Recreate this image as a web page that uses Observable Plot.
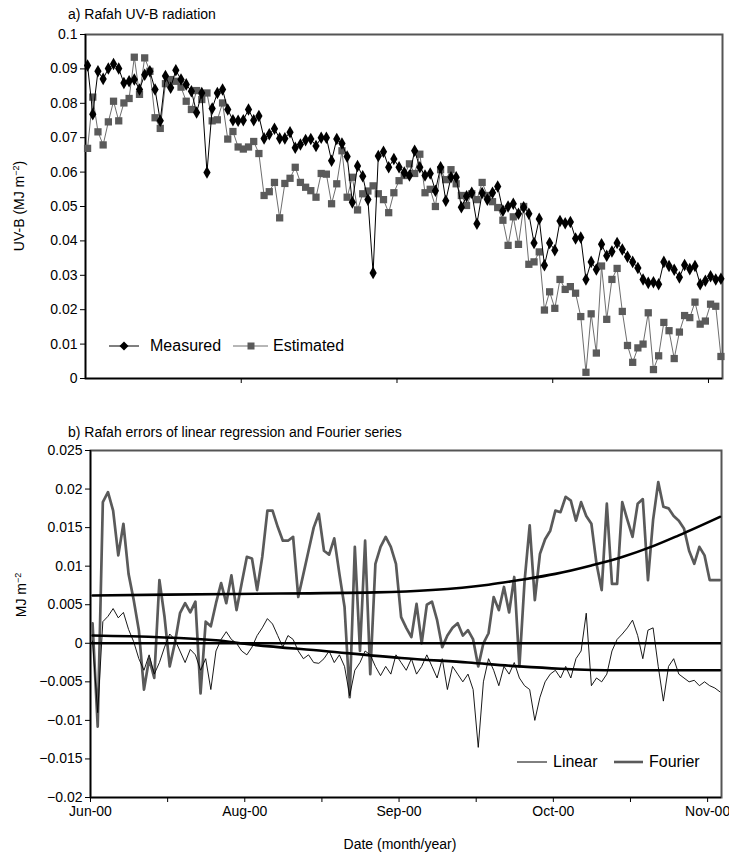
<!DOCTYPE html>
<html><head><meta charset="utf-8">
<script src="https://cdn.jsdelivr.net/npm/d3@7"></script>
<script src="https://cdn.jsdelivr.net/npm/@observablehq/plot@0.6"></script>
<style>
body{margin:0;background:#fff;}
#wrap{position:relative;width:729px;height:854px;overflow:hidden;background:#fff;}
#wrap > svg{position:absolute;left:0;}
</style></head><body><div id="wrap"></div>
<script>
// ---------- data (daily values, index = day) ----------
const measured = [0.0910,0.0768,0.0893,0.0871,0.0901,0.0914,0.0901,0.0859,0.0864,0.0869,
0.0840,0.0883,0.0893,0.0840,0.0749,0.0879,0.0845,0.0896,0.0869,0.0855,
0.0835,0.0773,0.0830,0.0599,0.0785,0.0830,0.0840,0.0782,0.0751,0.0749,
0.0751,0.0782,0.0751,0.0763,0.0698,0.0710,0.0726,0.0698,0.0698,0.0716,
0.0671,0.0680,0.0693,0.0696,0.0676,0.0700,0.0700,0.0633,0.0696,0.0683,
0.0645,0.0512,0.0618,0.0588,0.0520,0.0307,0.0647,0.0659,0.0614,0.0638,
0.0614,0.0599,0.0590,0.0662,0.0614,0.0590,0.0596,0.0546,0.0614,0.0517,
0.0585,0.0585,0.0498,0.0530,0.0540,0.0450,0.0539,0.0520,0.0540,0.0558,
0.0488,0.0500,0.0508,0.0479,0.0498,0.0479,0.0394,0.0464,0.0329,0.0394,
0.0373,0.0458,0.0451,0.0455,0.0407,0.0410,0.0288,0.0339,0.0317,0.0390,
0.0357,0.0369,0.0394,0.0375,0.0354,0.0339,0.0321,0.0288,0.0278,0.0280,
0.0274,0.0339,0.0327,0.0316,0.0294,0.0330,0.0318,0.0327,0.0274,0.0284,
0.0297,0.0288,0.0290];

const estimated = [0.0669,0.0818,0.0717,0.0679,0.0746,0.0806,0.0749,0.0801,0.0814,0.0934,
0.0826,0.0932,0.0893,0.0758,0.0727,0.0857,0.0869,0.0864,0.0847,0.0806,
0.0782,0.0837,0.0811,0.0830,0.0749,0.0752,0.0801,0.0696,0.0718,0.0673,
0.0667,0.0673,0.0689,0.0654,0.0532,0.0543,0.0570,0.0467,0.0567,0.0582,
0.0614,0.0570,0.0556,0.0546,0.0527,0.0596,0.0594,0.0508,0.0566,0.0662,
0.0527,0.0585,0.0490,0.0537,0.0545,0.0560,0.0537,0.0520,0.0482,0.0540,
0.0575,0.0590,0.0624,0.0596,0.0652,0.0540,0.0550,0.0500,0.0607,0.0578,
0.0607,0.0566,0.0532,0.0503,0.0537,0.0520,0.0570,0.0532,0.0514,0.0497,
0.0460,0.0387,0.0470,0.0390,0.0500,0.0332,0.0339,0.0368,0.0199,0.0252,
0.0204,0.0288,0.0259,0.0267,0.0248,0.0180,0.0018,0.0188,0.0074,0.0327,
0.0172,0.0288,0.0320,0.0195,0.0096,0.0047,0.0089,0.0100,0.0191,0.0026,
0.0066,0.0163,0.0139,0.0058,0.0135,0.0183,0.0177,0.0222,0.0158,0.0167,
0.0216,0.0210,0.0064];

const fourierErr = [0.0026,-0.0108,0.0183,0.0196,0.0172,0.0114,0.0155,0.0090,0.0056,0.0017,
-0.0060,-0.0020,-0.0045,0.0082,0.0034,-0.0030,0.0000,0.0039,0.0052,0.0040,
0.0054,-0.0065,0.0028,0.0022,0.0052,0.0078,0.0052,0.0088,0.0043,0.0078,
0.0112,0.0110,0.0069,0.0112,0.0172,0.0172,0.0151,0.0133,0.0133,0.0138,
0.0060,0.0090,0.0120,0.0150,0.0168,0.0120,0.0115,0.0136,0.0090,0.0047,
-0.0070,0.0125,-0.0010,0.0133,-0.0040,0.0103,0.0125,0.0138,0.0125,0.0103,
0.0034,0.0020,0.0008,0.0051,0.0000,0.0050,0.0054,0.0030,-0.0005,0.0010,
0.0020,0.0026,0.0010,0.0017,0.0005,-0.0030,0.0000,0.0013,0.0060,0.0043,
0.0073,0.0040,0.0086,-0.0030,0.0080,0.0153,0.0056,0.0116,0.0135,0.0146,
0.0172,0.0170,0.0190,0.0185,0.0159,0.0183,0.0165,0.0155,0.0103,0.0069,
0.0181,0.0077,0.0077,0.0183,0.0160,0.0138,0.0181,0.0187,0.0082,0.0160,
0.0209,0.0177,0.0175,0.0165,0.0159,0.0149,0.0120,0.0103,0.0125,0.0114,
0.0082,0.0082,0.0082];

const linearErr = [0.0003,-0.0090,0.0028,0.0035,0.0045,0.0033,0.0040,0.0018,0.0002,-0.0020,
-0.0035,-0.0015,-0.0040,-0.0025,-0.0005,0.0012,0.0005,-0.0010,-0.0025,-0.0008,
-0.0015,-0.0035,-0.0020,-0.0060,-0.0010,0.0005,0.0015,0.0005,0.0000,-0.0010,
-0.0015,-0.0005,0.0010,0.0020,0.0032,0.0025,0.0010,-0.0005,0.0010,0.0005,
-0.0010,-0.0020,-0.0015,-0.0025,-0.0026,-0.0020,-0.0010,-0.0025,-0.0015,-0.0030,
-0.0068,-0.0035,-0.0025,-0.0010,-0.0015,-0.0030,-0.0042,-0.0030,-0.0040,-0.0015,
-0.0025,-0.0035,-0.0020,-0.0040,-0.0030,-0.0015,-0.0030,-0.0045,-0.0020,-0.0060,
-0.0030,-0.0040,-0.0050,-0.0040,-0.0060,-0.0135,-0.0050,-0.0020,-0.0035,-0.0055,
-0.0030,-0.0040,-0.0025,-0.0045,-0.0055,-0.0060,-0.0100,-0.0070,-0.0050,-0.0040,
-0.0035,-0.0045,-0.0030,-0.0045,-0.0020,-0.0010,0.0039,-0.0055,-0.0045,-0.0050,
-0.0040,-0.0010,0.0005,0.0012,0.0020,0.0030,0.0010,-0.0020,0.0017,0.0020,
-0.0030,-0.0075,-0.0030,-0.0020,-0.0040,-0.0045,-0.0050,-0.0048,-0.0055,-0.0050,
-0.0055,-0.0058,-0.0063];

// trend lines read at selected days
const fourierTrendDay = [0, 27, 55, 66, 77, 83, 90, 97, 103, 109, 114, 122];
const fourierTrend    = [0.0062,0.0064,0.0066,0.0069,0.0076,0.0082,0.0090,0.0101,0.0112,0.0126,0.0140,0.0164];
const linearTrendDay  = [0, 24, 30, 45, 60, 73, 83, 91, 102, 119, 122];
const linearTrend     = [0.0010,0.0004,-0.0001,-0.0010,-0.0019,-0.0025,-0.0030,-0.0033,-0.0035,-0.0035,-0.0035];

const topYTicks = [0,0.01,0.02,0.03,0.04,0.05,0.06,0.07,0.08,0.09,0.1];
const botYTicks = [-0.02,-0.015,-0.01,-0.005,0,0.005,0.01,0.015,0.02,0.025];
const monthLabels = ["Jun-00","Aug-00","Sep-00","Oct-00","Nov-00"];
const seriesNames = ["Measured","Estimated","Linear","Fourier"];

// ---------- helpers ----------
const FONT = '"Liberation Sans",Arial,sans-serif';
const xDomain = [-0.4, 122.3];
const majorStep = 30, minorStep = 15;
const topXTicks = d3.range(1, 5).map(k => xDomain[0] + k*majorStep);
const botXTicks = d3.range(0, 9).map(k => xDomain[0] + k*minorStep);
const fmt = d => (d < 0 ? "\u2212" : "") + String(+Math.abs(d).toFixed(3));
const rows = (arr) => arr.map((v,i) => ({day:i, v}));
const pairs = (days, vals) => days.map((d,i) => ({day:d, v:vals[i]}));

const wrap = document.getElementById("wrap");

// ---------- panel a ----------
const topPlot = Plot.plot({
  width:729, height:400, marginTop:34, marginBottom:22, marginLeft:85, marginRight:7,
  style:{fontFamily:FONT, fontSize:"14px", background:"white", color:"black", overflow:"visible"},
  x:{domain:xDomain, axis:null},
  y:{domain:[0,0.1], axis:null},
  marks:[
    Plot.frame({stroke:"#555", strokeWidth:2}),
    Plot.ruleX([xDomain[0]], {stroke:"black", strokeWidth:1.5}),
    Plot.ruleY([0], {stroke:"black", strokeWidth:1.5}),
    Plot.axisY(topYTicks, {label:null, tickSize:5, tickPadding:3, tickFormat:fmt, stroke:"black", fill:"black"}),
    Plot.axisX(topXTicks, {label:null, tickSize:5, tickFormat:() => "", stroke:"black"}),
    Plot.line(rows(estimated), {x:"day", y:"v", stroke:"#6e6e6e", strokeWidth:1}),
    Plot.dot(rows(estimated), {x:"day", y:"v", symbol:"square", fill:"#5a5a5a", r:4.1, stroke:"none"}),
    Plot.line(rows(measured), {x:"day", y:"v", stroke:"black", strokeWidth:1}),
    Plot.dot(rows(measured), {x:"day", y:"v", symbol:"diamond", fill:"black", r:3.8, stroke:"none"})
  ]
});
topPlot.style.top = "0px";
wrap.appendChild(topPlot);

// ---------- panel b ----------
const botPlot = Plot.plot({
  width:729, height:454, marginTop:50, marginBottom:57, marginLeft:90, marginRight:8,
  style:{fontFamily:FONT, fontSize:"14px", background:"white", color:"black", overflow:"visible"},
  x:{domain:xDomain, axis:null},
  y:{domain:[-0.02,0.025], axis:null},
  marks:[
    Plot.frame({stroke:"#555", strokeWidth:2}),
    Plot.ruleX([xDomain[0]], {stroke:"black", strokeWidth:1.5}),
    Plot.ruleY([-0.02], {stroke:"black", strokeWidth:1.5}),
    Plot.axisY(botYTicks, {label:null, tickSize:5, tickPadding:3, tickFormat:fmt, stroke:"black", fill:"black"}),
    Plot.axisX(botXTicks, {label:null, tickSize:5, tickPadding:4, stroke:"black", fill:"black",
      tickFormat:(d,i) => i % 2 === 0 ? monthLabels[i/2] : ""}),
    Plot.line(rows(fourierErr), {x:"day", y:"v", stroke:"#5a5a5a", strokeWidth:2.7}),
    Plot.line(rows(linearErr), {x:"day", y:"v", stroke:"black", strokeWidth:0.9}),
    Plot.ruleY([0], {stroke:"black", strokeWidth:2.6}),
    Plot.line(pairs(fourierTrendDay, fourierTrend), {x:"day", y:"v", stroke:"black", strokeWidth:2.6, curve:"monotone-x"}),
    Plot.line(pairs(linearTrendDay, linearTrend), {x:"day", y:"v", stroke:"black", strokeWidth:2.6, curve:"monotone-x"})
  ]
});
botPlot.style.top = "400px";
wrap.appendChild(botPlot);

// ---------- titles, axis titles, legends (text overlay) ----------
const ns = "http://www.w3.org/2000/svg";
const ov = document.createElementNS(ns, "svg");
ov.setAttribute("width", 729); ov.setAttribute("height", 854);
ov.style.top = "0px"; ov.style.pointerEvents = "none";
ov.setAttribute("font-family", FONT.replace(/"/g, "'"));
ov.innerHTML = `
  <text x="68" y="19" font-size="14">a) Rafah UV-B radiation</text>
  <text x="68" y="437" font-size="14">b) Rafah errors of linear regression and Fourier series</text>
  <text transform="translate(24,206) rotate(-90)" text-anchor="middle" font-size="14">UV-B (MJ m<tspan dy="-5" font-size="9">\u22122</tspan><tspan dy="5">)</tspan></text>
  <text transform="translate(26,595) rotate(-90)" text-anchor="middle" font-size="14">MJ m<tspan dy="-5" font-size="9">\u22122</tspan></text>
  <text x="400" y="849" text-anchor="middle" font-size="14">Date (month/year)</text>
  <line x1="109" y1="346" x2="139" y2="346" stroke="black" stroke-width="1"/>
  <path d="M124,341.5 L128.5,346 L124,350.5 L119.5,346 Z" fill="black"/>
  <text x="150" y="351" font-size="16">${seriesNames[0]}</text>
  <line x1="233" y1="346" x2="268" y2="346" stroke="#6e6e6e" stroke-width="1"/>
  <rect x="247.5" y="342.5" width="7" height="7" fill="#5a5a5a"/>
  <text x="273" y="351" font-size="16">${seriesNames[1]}</text>
  <line x1="517" y1="762" x2="547" y2="762" stroke="black" stroke-width="1"/>
  <text x="553" y="767" font-size="16">${seriesNames[2]}</text>
  <line x1="614" y1="762" x2="643" y2="762" stroke="#5a5a5a" stroke-width="2.6"/>
  <text x="649" y="767" font-size="16">${seriesNames[3]}</text>
`;
wrap.appendChild(ov);
</script></body></html>
